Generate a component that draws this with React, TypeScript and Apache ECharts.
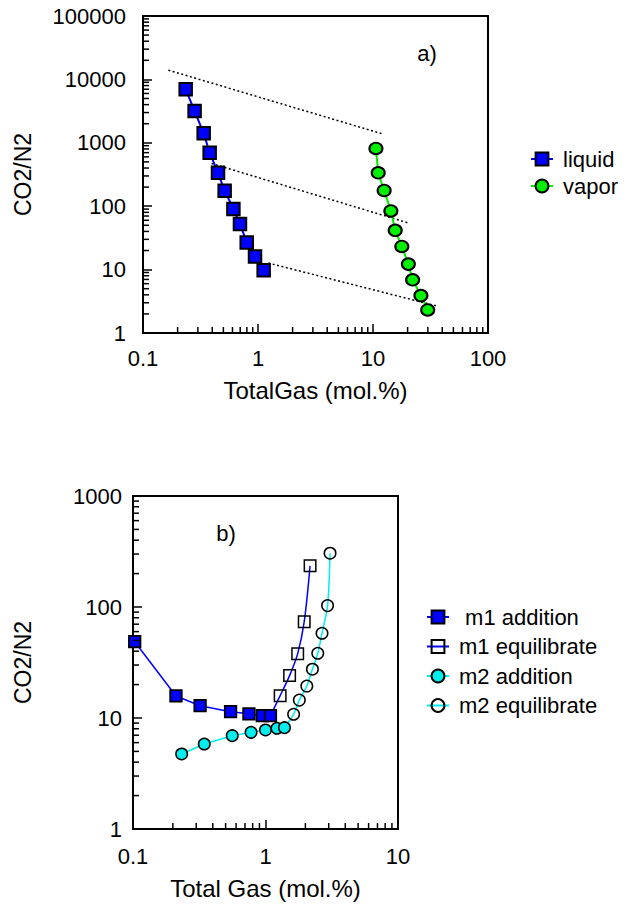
import React, { useEffect, useRef } from 'react';
import * as echarts from 'echarts';

// ---------- Panel a) data ----------
const liquidX = [0.235, 0.281, 0.337, 0.38, 0.449, 0.513, 0.611, 0.697, 0.798, 0.942, 1.12];
const liquidY = [7000, 3170, 1410, 697, 336, 175, 90.6, 52.5, 26.8, 16.1, 9.8];
const vaporX = [10.6, 11.1, 12.5, 14.3, 15.6, 17.8, 20.3, 22.1, 26.1, 29.9];
const vaporY = [815, 336, 177, 84.2, 41.6, 23.2, 12.2, 6.9, 3.89, 2.31];
const trend1X = [0.166, 11.9];
const trend1Y = [14000, 1393];
const trend2X = [0.395, 20.3];
const trend2Y = [472, 54.4];
const trend3X = [1.23, 35.8];
const trend3Y = [12.7, 2.67];

// ---------- Panel b) data ----------
const m1AddX = [0.103, 0.211, 0.321, 0.545, 0.75, 0.946, 1.09];
const m1AddY = [48.7, 15.8, 12.9, 11.4, 10.9, 10.5, 10.5];
const m1EqX = [1.29, 1.52, 1.75, 1.96, 2.17];
const m1EqY = [15.9, 24.1, 38.0, 73.7, 235];
const m2AddX = [0.233, 0.345, 0.561, 0.778, 1.0, 1.22, 1.39];
const m2AddY = [4.74, 5.83, 6.93, 7.43, 7.8, 8.08, 8.18];
const m2EqX = [1.63, 1.8, 2.05, 2.26, 2.48, 2.67, 2.94, 3.07];
const m2EqY = [10.8, 14.5, 19.4, 27.5, 38.3, 58.0, 103, 305];

// ---------- axes ----------
const topXTicks = [0.1, 1, 10, 100];
const topXLabels = ['0.1', '1', '10', '100'];
const topYTicks = [1, 10, 100, 1000, 10000, 100000];
const topYLabels = ['1', '10', '100', '1000', '10000', '100000'];
const botXTicks = [0.1, 1, 10];
const botXLabels = ['0.1', '1', '10'];
const botYTicks = [1, 10, 100, 1000];
const botYLabels = ['1', '10', '100', '1000'];
const minorMultipliers = [2, 3, 4, 5, 6, 7, 8, 9];

const FONT = "'Liberation Sans', Arial, Helvetica, sans-serif";
const BLUE = '#0000ff';
const GREEN = '#00f000';
const CYAN = '#00eeee';

function minorValues(ticks: number[]) {
  const out: number[] = [];
  for (let i = 0; i < ticks.length - 1; i++) {
    for (const m of minorMultipliers) out.push(+(ticks[i] * m).toPrecision(6));
  }
  return out;
}

function labelFor(ticks: number[], labels: string[]) {
  return (v: number) => {
    let best = 0;
    let bd = Infinity;
    ticks.forEach((t, i) => {
      const d = Math.abs(Math.log10(t) - Math.log10(v));
      if (d < bd) { bd = d; best = i; }
    });
    return labels[best];
  };
}

function xMinorSeries(idx: number, ticks: number[], yMin: number) {
  return {
    type: 'custom',
    xAxisIndex: idx,
    yAxisIndex: idx,
    silent: true,
    clip: false,
    z: 5,
    encode: { x: 0, y: 1 },
    data: minorValues(ticks).map((v) => [v, yMin]),
    renderItem: (_p: any, api: any) => {
      const p = api.coord([api.value(0), api.value(1)]);
      return {
        type: 'line',
        shape: { x1: p[0], y1: p[1], x2: p[0], y2: p[1] - 6 },
        style: { stroke: '#000', lineWidth: 1.5 },
      };
    },
  };
}

function yMinorSeries(idx: number, ticks: number[], xMin: number) {
  return {
    type: 'custom',
    xAxisIndex: idx,
    yAxisIndex: idx,
    silent: true,
    clip: false,
    z: 5,
    encode: { x: 0, y: 1 },
    data: minorValues(ticks).map((v) => [xMin, v]),
    renderItem: (_p: any, api: any) => {
      const p = api.coord([api.value(0), api.value(1)]);
      return {
        type: 'line',
        shape: { x1: p[0], y1: p[1], x2: p[0] + 6, y2: p[1] },
        style: { stroke: '#000', lineWidth: 1.5 },
      };
    },
  };
}

function logAxis(gridIndex: number, ticks: number[], labels: string[], name: string, nameGap: number, labelMargin: number, vertical: boolean) {
  return {
    type: 'log',
    logBase: 10,
    gridIndex,
    min: ticks[0],
    max: ticks[ticks.length - 1],
    name,
    nameLocation: 'middle',
    nameGap,
    nameRotate: vertical ? 90 : 0,
    nameTextStyle: { fontFamily: FONT, fontSize: vertical ? 23 : 24, color: '#000' },
    axisLine: { show: true, lineStyle: { color: '#000', width: 2 } },
    axisTick: { show: true, inside: true, length: 9, lineStyle: { color: '#000', width: 1.5 } },
    axisLabel: {
      fontFamily: FONT,
      fontSize: 22,
      color: '#000',
      margin: labelMargin,
      formatter: labelFor(ticks, labels),
    },
    splitLine: { show: false },
    minorTick: { show: false },
    minorSplitLine: { show: false },
  };
}

const pts = (xs: number[], ys: number[]) => xs.map((x, i) => [x, ys[i]]);

export default function App() {
  const ref = useRef<HTMLDivElement>(null);

  useEffect(() => {
    if (!ref.current) return;
    const chart = echarts.init(ref.current, undefined, { renderer: 'svg' });

    const legendText = { fontFamily: FONT, fontSize: 22, color: '#000', lineHeight: 20, padding: [0, 0, 0, 5] };

    const option: any = {
      animation: false,
      backgroundColor: '#fff',
      grid: [
        { left: 143, top: 16, width: 345, height: 317, show: true, borderColor: '#000', borderWidth: 2, backgroundColor: 'transparent' },
        { left: 133, top: 496, width: 265, height: 333, show: true, borderColor: '#000', borderWidth: 2, backgroundColor: 'transparent' },
      ],
      xAxis: [
        logAxis(0, topXTicks, topXLabels, 'TotalGas (mol.%)', 45, 14, false),
        logAxis(1, botXTicks, botXLabels, 'Total Gas (mol.%)', 47, 16, false),
      ],
      yAxis: [
        logAxis(0, topYTicks, topYLabels, 'CO2/N2', 109, 17, true),
        logAxis(1, botYTicks, botYLabels, 'CO2/N2', 99, 11, true),
      ],
      legend: [
        {
          data: ['liquid', 'vapor'],
          orient: 'vertical',
          left: 530,
          top: 148,
          padding: 0,
          itemWidth: 22,
          itemHeight: 16,
          itemGap: 5,
          textStyle: legendText,
        },
        {
          data: [' m1 addition', 'm1 equilibrate', 'm2 addition', 'm2 equilibrate'],
          orient: 'vertical',
          left: 426,
          top: 606,
          padding: 0,
          itemWidth: 22,
          itemHeight: 16,
          itemGap: 7.5,
          textStyle: legendText,
        },
      ],
      graphic: [
        { type: 'text', x: 427, y: 53, style: { text: 'a)', fill: '#000', font: `22px ${FONT}`, align: 'center', verticalAlign: 'middle' } },
        { type: 'text', x: 226, y: 533, style: { text: 'b)', fill: '#000', font: `22px ${FONT}`, align: 'center', verticalAlign: 'middle' } },
      ],
      series: [
        xMinorSeries(0, topXTicks, topYTicks[0]),
        yMinorSeries(0, topYTicks, topXTicks[0]),
        xMinorSeries(1, botXTicks, botYTicks[0]),
        yMinorSeries(1, botYTicks, botXTicks[0]),
        ...[
          [trend1X, trend1Y],
          [trend2X, trend2Y],
          [trend3X, trend3Y],
        ].map(([xs, ys]) => ({
          type: 'line',
          xAxisIndex: 0,
          yAxisIndex: 0,
          symbol: 'none',
          silent: true,
          data: pts(xs, ys),
          lineStyle: { color: '#000', width: 1.5, type: [2, 2.5] },
          z: 2,
        })),
        {
          name: 'liquid',
          type: 'line',
          xAxisIndex: 0,
          yAxisIndex: 0,
          data: pts(liquidX, liquidY),
          symbol: 'rect',
          symbolSize: 12.5,
          itemStyle: { color: BLUE, borderColor: '#000', borderWidth: 2 },
          lineStyle: { color: BLUE, width: 2 },
          z: 3,
        },
        {
          name: 'vapor',
          type: 'line',
          xAxisIndex: 0,
          yAxisIndex: 0,
          data: pts(vaporX, vaporY),
          symbol: 'circle',
          symbolSize: [13, 11.5],
          itemStyle: { color: GREEN, borderColor: '#000', borderWidth: 2 },
          lineStyle: { color: GREEN, width: 2 },
          z: 3,
        },
        {
          name: ' m1 addition',
          type: 'line',
          xAxisIndex: 1,
          yAxisIndex: 1,
          data: pts(m1AddX, m1AddY),
          symbol: 'rect',
          symbolSize: 11.5,
          itemStyle: { color: BLUE, borderColor: '#000', borderWidth: 1.8 },
          lineStyle: { color: BLUE, width: 1.5 },
          z: 4,
        },
        {
          name: 'm1 equilibrate',
          type: 'line',
          xAxisIndex: 1,
          yAxisIndex: 1,
          smooth: 0.3,
          data: [
            { value: [m1AddX[m1AddX.length - 1], m1AddY[m1AddY.length - 1]], symbol: 'none' },
            ...pts(m1EqX, m1EqY),
          ],
          symbol: 'rect',
          symbolSize: 11.5,
          itemStyle: { color: 'rgba(255,255,255,0)', borderColor: '#000', borderWidth: 1.5 },
          lineStyle: { color: BLUE, width: 1.5 },
          z: 3,
        },
        {
          name: 'm2 addition',
          type: 'line',
          xAxisIndex: 1,
          yAxisIndex: 1,
          data: pts(m2AddX, m2AddY),
          symbol: 'circle',
          symbolSize: 11.5,
          itemStyle: { color: CYAN, borderColor: '#000', borderWidth: 1.5 },
          lineStyle: { color: CYAN, width: 1.5 },
          z: 4,
        },
        {
          name: 'm2 equilibrate',
          type: 'line',
          xAxisIndex: 1,
          yAxisIndex: 1,
          smooth: 0.3,
          data: [
            { value: [m2AddX[m2AddX.length - 1], m2AddY[m2AddY.length - 1]], symbol: 'none' },
            ...pts(m2EqX, m2EqY),
          ],
          symbol: 'circle',
          symbolSize: 11.5,
          itemStyle: { color: 'rgba(255,255,255,0)', borderColor: '#000', borderWidth: 1.5 },
          lineStyle: { color: CYAN, width: 1.5 },
          z: 3,
        },
      ],
    };

    chart.setOption(option);
    return () => chart.dispose();
  }, []);

  return (
    <div
      ref={ref}
      style={{ position: 'fixed', left: 0, top: 0, width: 631, height: 905, background: '#fff' }}
    />
  );
}
